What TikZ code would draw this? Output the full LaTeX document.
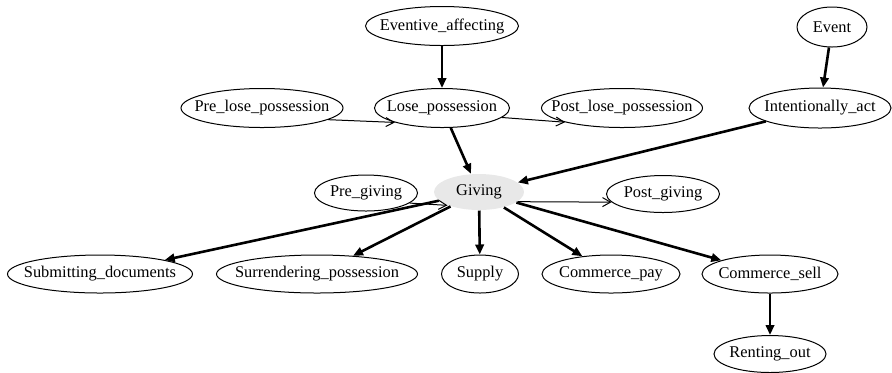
\documentclass[tikz,border=0pt]{standalone}
\usepackage{fontspec}
\setmainfont{Liberation Serif}
\usetikzlibrary{arrows.meta, shapes.geometric}
\newcommand{\fname}[1]{\makebox[0pt]{#1}}
\tikzset{
  frame/.style={ellipse, draw=black, line width=0.5pt, inner sep=0pt, text=black,
                font=\fontsize{8.2}{9}\selectfont},
  focus/.style={frame, draw=none, fill=black!9},
  %
  isa/.style={draw=black, line width=1.3pt, -{Triangle[length=5pt, width=4.2pt]}},
  precedes/.style={draw=black, line width=0.5pt, -{Straight Barb[length=4pt, width=4.5pt]}},
}
\begin{document}
\begin{tikzpicture}[x=0.5pt, y=-0.5pt]

  \useasboundingbox (0,0) rectangle (892,372);

  % top row
  \node[frame, minimum width=76.5pt, minimum height=19.5pt] (evaff) at (442,26) {\fname{Eventive\_affecting}};
  \node[frame, minimum width=35pt, minimum height=20pt] (event) at (832,27) {\fname{Event}};

  \node[frame, minimum width=81pt, minimum height=19.5pt] (prelose) at (262,108) {\fname{Pre\_lose\_possession}};
  \node[frame, minimum width=67.5pt, minimum height=19.5pt] (lose) at (442,108) {\fname{Lose\_possession}};
  \node[frame, minimum width=80.5pt, minimum height=19.5pt] (postlose) at (622,108) {\fname{Post\_lose\_possession}};
  \node[frame, minimum width=71pt, minimum height=20pt] (intent) at (820,108) {\fname{Intentionally\_act}};

  \draw[isa] (evaff) -- (lose);
  \draw[isa] (event) -- (intent);
  \draw[precedes] (prelose.-10) -- (lose.-163);
  \draw[precedes] (lose.-9) -- (postlose.-166);

  % the focus frame
  \node[frame, minimum width=51.5pt, minimum height=18pt] (pregiv) at (366,193) {\fname{Pre\_giving}};
  \node[focus, minimum width=45pt, minimum height=18pt] (giving) at (479,192) {\fname{Giving}};
  \node[frame, minimum width=56.5pt, minimum height=18.5pt] (postgiv) at (663,194) {\fname{Post\_giving}};

  \draw[isa] (lose) -- (giving);
  \draw[isa] (intent) -- (giving);
  \draw[precedes] (pregiv.-13) -- (giving.-157);
  \draw[precedes] (giving.-14) -- (postgiv.-171);

  % children
  \node[frame, minimum width=92.5pt, minimum height=19pt] (submit) at (100,274) {\fname{Submitting\_documents}};
  \node[frame, minimum width=100.5pt, minimum height=19pt] (surr) at (317,274) {\fname{Surrendering\_possession}};
  \node[frame, minimum width=38.5pt, minimum height=19pt] (supply) at (480,274) {\fname{Supply}};
  \node[frame, minimum width=69pt, minimum height=19pt] (cpay) at (611,274) {\fname{Commerce\_pay}};
  \node[frame, minimum width=68pt, minimum height=19pt] (csell) at (770,274) {\fname{Commerce\_sell}};
  \node[frame, minimum width=56pt, minimum height=18.5pt] (rent) at (770,354) {\fname{Renting\_out}};

  \draw[isa] (giving) -- (submit);
  \draw[isa] (giving) -- (surr);
  \draw[isa] (giving) -- (supply);
  \draw[isa] (giving) -- (cpay);
  \draw[isa] (giving) -- (csell);
  \draw[isa] (csell) -- (rent);

\end{tikzpicture}
\end{document}
